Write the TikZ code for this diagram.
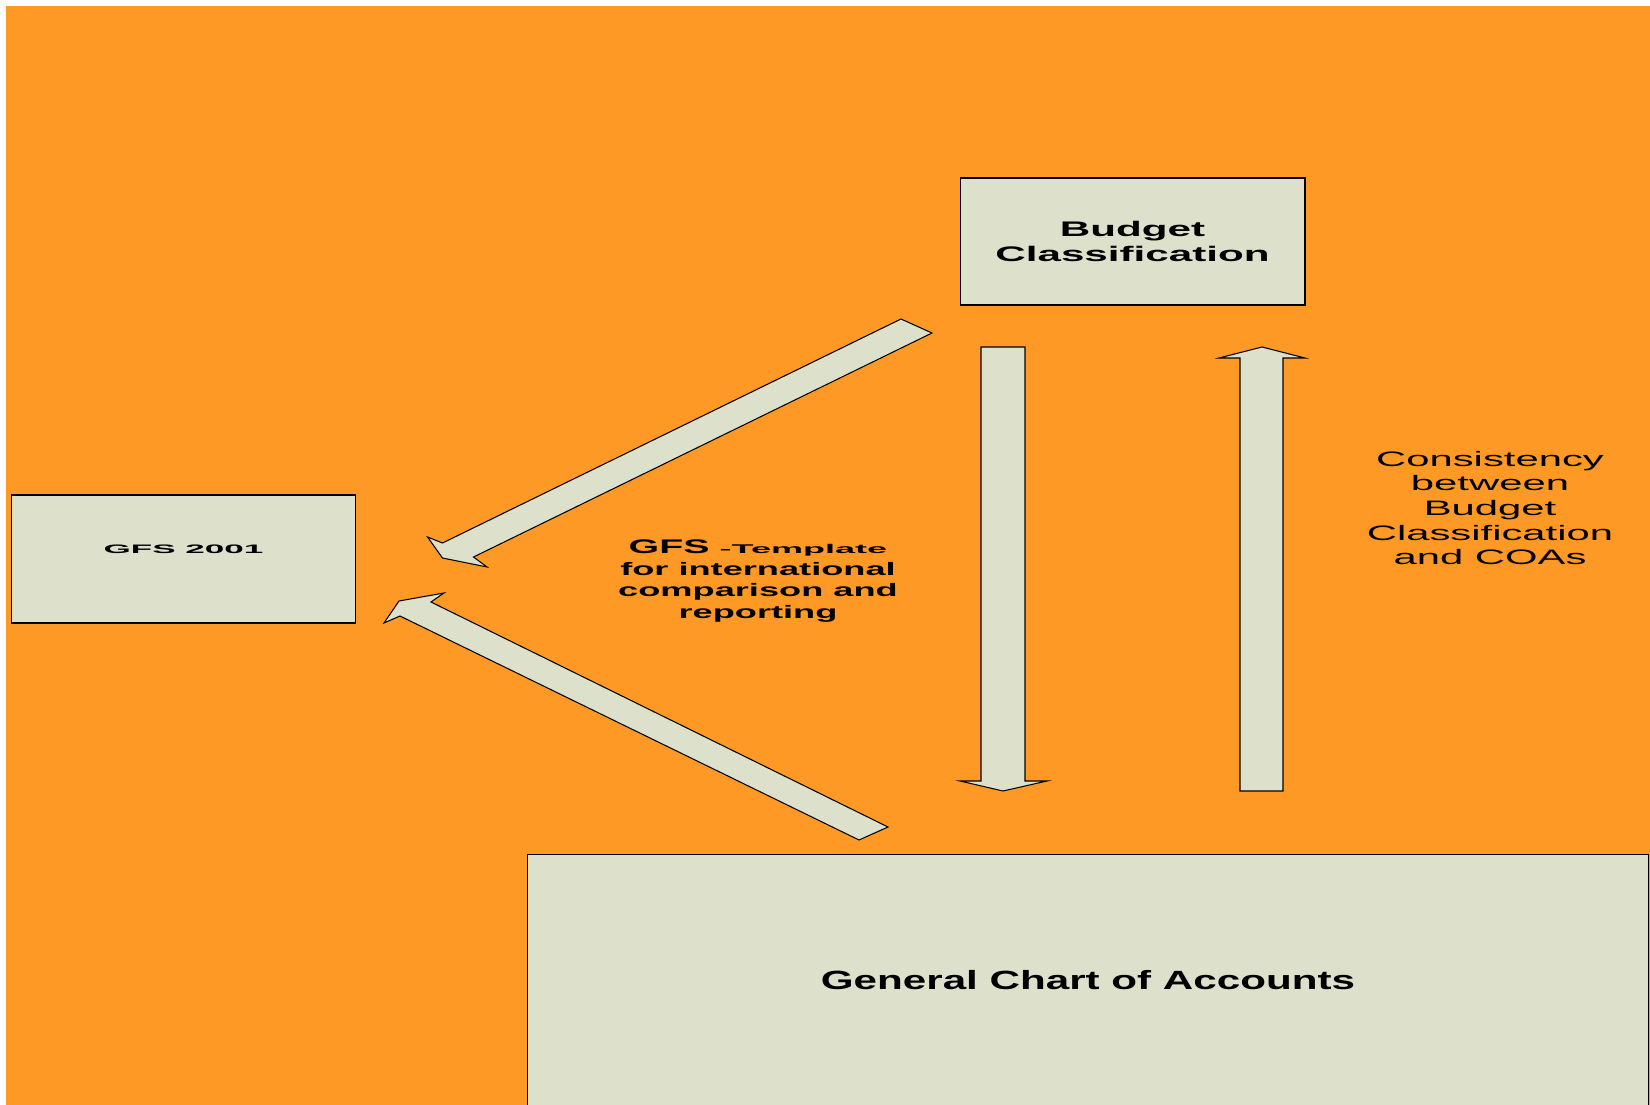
\documentclass[tikz,border=0pt]{standalone}
\usepackage{fontspec}
\setmainfont{Liberation Sans}[FakeStretch=1.6]
\newfontfamily\widesans{Liberation Sans}[FakeStretch=2.0]
\newfontfamily\widersans{Liberation Sans}[FakeStretch=2.85]
\definecolor{bgorange}{RGB}{255,153,38}
\definecolor{boxfill}{RGB}{221,225,204}
\tikzset{
  box/.style={draw=black, line width=0.6pt, fill=boxfill, inner sep=0pt, align=center},
  fatarrow/.style={draw=black, line width=0.6pt, fill=boxfill, line join=miter},
  caption/.style={inner sep=0pt, align=center},
}

\begin{document}
\begin{tikzpicture}[x=0.02cm, y=-0.02cm]
        \useasboundingbox (0,0) rectangle (1650,1105);
        \fill[bgorange] (6,6) rectangle (1650,1105);
        % boxes
        \node[box, minimum width=6.9cm, minimum height=2.54cm,
              font=\widesans\fontsize{12}{14.7}\selectfont\bfseries]
              (budget) at (1132.5,241.5) {Budget\\Classification};
        \node[box, minimum width=6.9cm, minimum height=2.56cm, text depth=10.8pt,
              font=\widersans\fontsize{7}{9}\selectfont\bfseries]
              (gfs) at (183.5,559) {GFS 2001};
        \node[box, minimum width=22.44cm, minimum height=5.04cm,
              font=\fontsize{15}{18}\selectfont\bfseries]
              (coa) at (1088,980) {General Chart of Accounts};
        % block arrows
        \draw[fatarrow] (901,319) -- (442.5,543) -- (427.5,537) -- (442.5,558) -- (487,567) -- (473.5,557) -- (932,333) -- cycle;
        \draw[fatarrow] (859,840) -- (400,616) -- (384,623) -- (399,601) -- (444,593) -- (431,602) -- (888,827) -- cycle;
        \draw[fatarrow] (981,347) -- (1025,347) -- (1025,781) -- (1047,781) -- (1003,791) -- (960,781) -- (981,781) -- cycle;
        \draw[fatarrow] (1240,791) -- (1240,358) -- (1219,358) -- (1262,347) -- (1305,358) -- (1283,358) -- (1283,791) -- cycle;
        % captions
        \node[caption, font=\widesans\fontsize{10.3}{12.3}\selectfont\bfseries]
              (template) at (758,581) {{\fontsize{11.2}{12.3}\selectfont GFS} {\widersans\fontsize{7.2}{12.3}\selectfont -Template}\\
              for international\\comparison and\\reporting};
        \node[caption, font=\widesans\fontsize{11.9}{14}\selectfont]
              (consistency) at (1490,508) {Consistency\\between\\Budget\\Classification\\and COAs};
\end{tikzpicture}
\end{document}
